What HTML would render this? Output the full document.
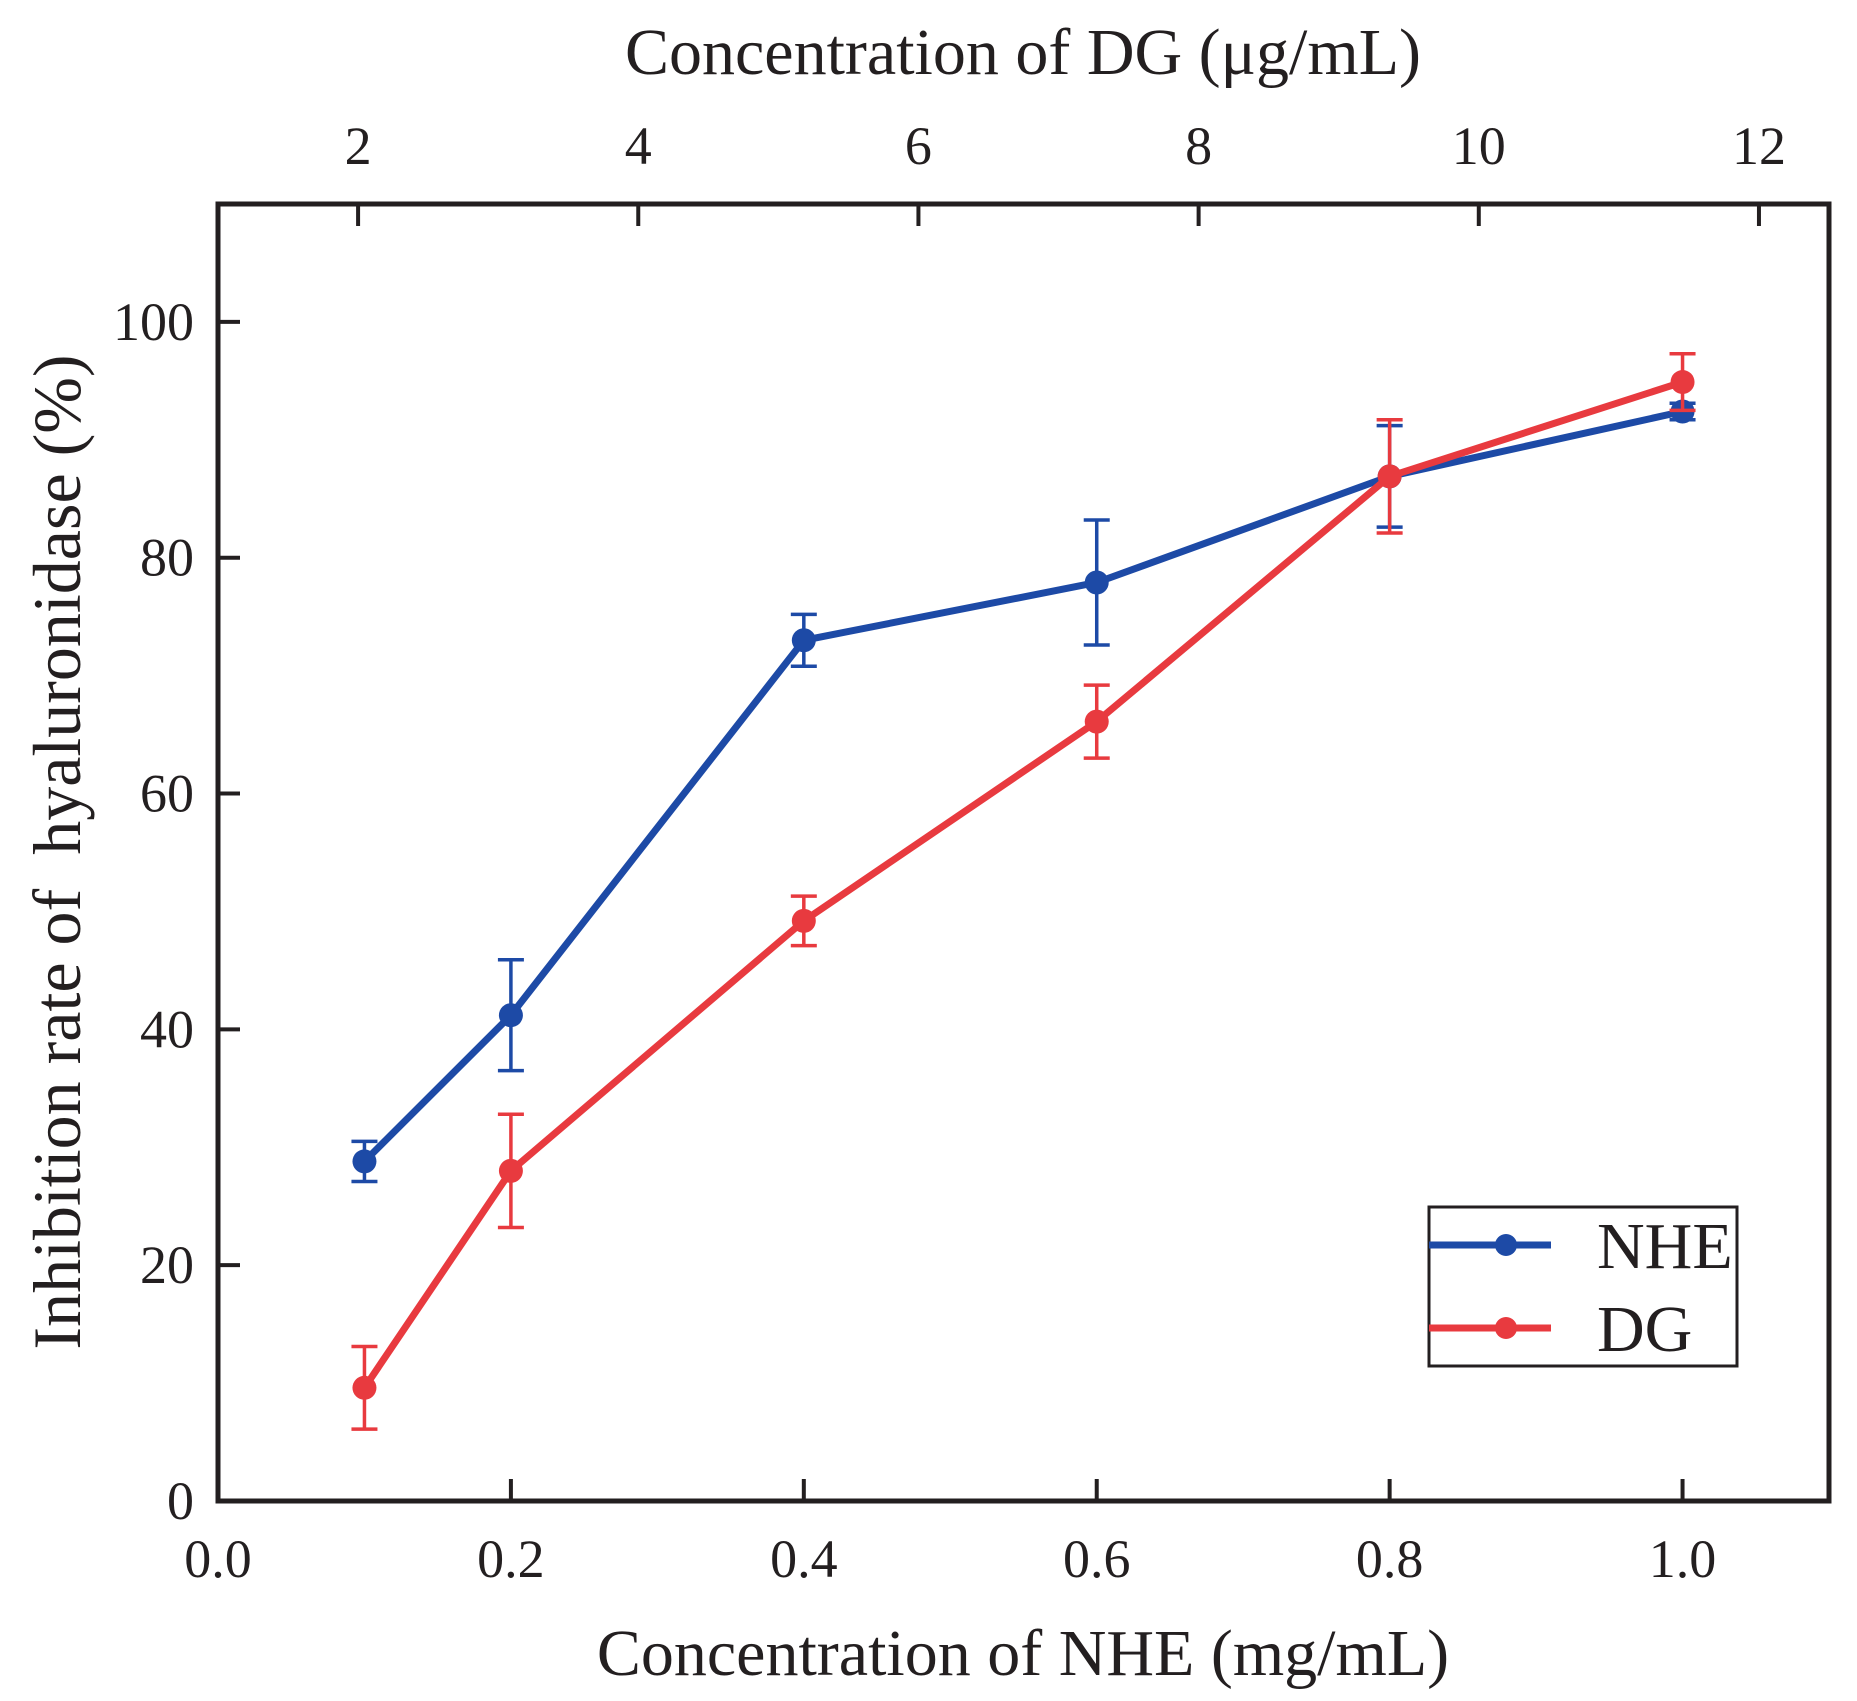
<!DOCTYPE html>
<html><head><meta charset="utf-8"><style>
body{margin:0;background:#fff}
svg text{font-family:"Liberation Serif",serif;fill:#231f20}
</style></head><body>
<svg id="chart" width="1857" height="1696" viewBox="0 0 1857 1696" xmlns="http://www.w3.org/2000/svg"></svg>
<script>
const categories=[0.1,0.2,0.4,0.6,0.8,1.0];
const nheValues=[28.8,41.2,73.0,77.9,86.9,92.4];
const nheErrors=[1.7,4.7,2.2,5.3,4.3,0.7];
const dgValues=[9.6,28.0,49.2,66.1,86.9,94.9];
const dgErrors=[3.5,4.8,2.1,3.1,4.8,2.4];
const xTicks=["0.0","0.2","0.4","0.6","0.8","1.0"];
const yTicks=["0","20","40","60","80","100"];
const topTicks=["2","4","6","8","10","12"];

const L=218,R=1829,T=204,B=1501;
const xs=v=>L+(v-0)/(1.1)*(R-L);
const ys=v=>B-(v/110)*(B-T);
const xt=v=>L+(v-1)/(11.5)*(R-L);
const svg=document.getElementById('chart');
const NS='http://www.w3.org/2000/svg';
function mk(tag,attrs,parent){const e=document.createElementNS(NS,tag);for(const k in attrs)e.setAttribute(k,attrs[k]);(parent||svg).appendChild(e);return e;}

let f=mk('rect',{x:L,y:T,width:R-L,height:B-T,fill:'none',stroke:'#231f20','stroke-width':5});



xTicks.forEach(t=>{const v=parseFloat(t);const x=xs(v);
 const l=mk('line',{x1:x,x2:x,y1:B,y2:B-22,stroke:'#231f20','stroke-width':4});
 
 
 const tx=mk('text',{x:x,y:B+76,'text-anchor':'middle','font-size':54});tx.textContent=t;
 
 
});
yTicks.forEach(t=>{const v=parseFloat(t);const y=ys(v);
 const l=mk('line',{x1:L,x2:L+22,y1:y,y2:y,stroke:'#231f20','stroke-width':4});
 
 
 const tx=mk('text',{x:L-24,y:y+18,'text-anchor':'end','font-size':54});tx.textContent=t;
 
 
});
topTicks.forEach(t=>{const v=parseFloat(t);const x=xt(v);
 const l=mk('line',{x1:x,x2:x,y1:T,y2:T+22,stroke:'#231f20','stroke-width':4});
 
 
 const tx=mk('text',{x:x,y:T-40,'text-anchor':'middle','font-size':54});tx.textContent=t;
 
 
});

let t1=mk('text',{x:1023,y:74,'text-anchor':'middle','font-size':66});t1.textContent='Concentration of DG (μg/mL)';


let t2=mk('text',{x:1023,y:1675,'text-anchor':'middle','font-size':66});t2.textContent='Concentration of NHE (mg/mL)';


let t3=mk('text',{x:0,y:0,'text-anchor':'middle','font-size':68,transform:'translate(80,852) rotate(-90)'});t3.textContent='Inhibition rate of\u00a0 hyaluronidase (%)';



function series(vals,errs,color,name){
 const g=mk('g',{});
 
 
 const pts=categories.map((c,i)=>xs(c)+','+ys(vals[i])).join(' ');
 const pl=mk('polyline',{points:pts,fill:'none',stroke:color,'stroke-width':7,'stroke-linejoin':'round'},g);
 
 
 categories.forEach((c,i)=>{const x=xs(c),y1=ys(vals[i]+errs[i]),y2=ys(vals[i]-errs[i]);
  const eb=mk('path',{d:`M${x},${y1}V${y2}M${x-13},${y1}H${x+13}M${x-13},${y2}H${x+13}`,stroke:color,'stroke-width':3.5,fill:'none'},g);
  
  
  const p=mk('circle',{cx:x,cy:ys(vals[i]),r:12,fill:color},g);
  
  
 });
}
series(nheValues,nheErrors,'#1d4aa6','nhe');
series(dgValues,dgErrors,'#e83a3f','dg');

const lg=mk('g',{});


mk('rect',{x:1429,y:1207,width:308,height:159,fill:'#fff',stroke:'#231f20','stroke-width':3},lg);
[['NHE','#1d4aa6',1245],['DG','#e83a3f',1328]].forEach(([n,c,y])=>{
 const e=mk('g',{},lg);
 
 
 mk('line',{x1:1429,x2:1551,y1:y,y2:y,stroke:c,'stroke-width':7},e);
 mk('circle',{cx:1506,cy:y,r:11,fill:c},e);
 const tx=mk('text',{x:1597,y:y+23,'font-size':66},e);tx.textContent=n;
});
</script>
</body></html>
